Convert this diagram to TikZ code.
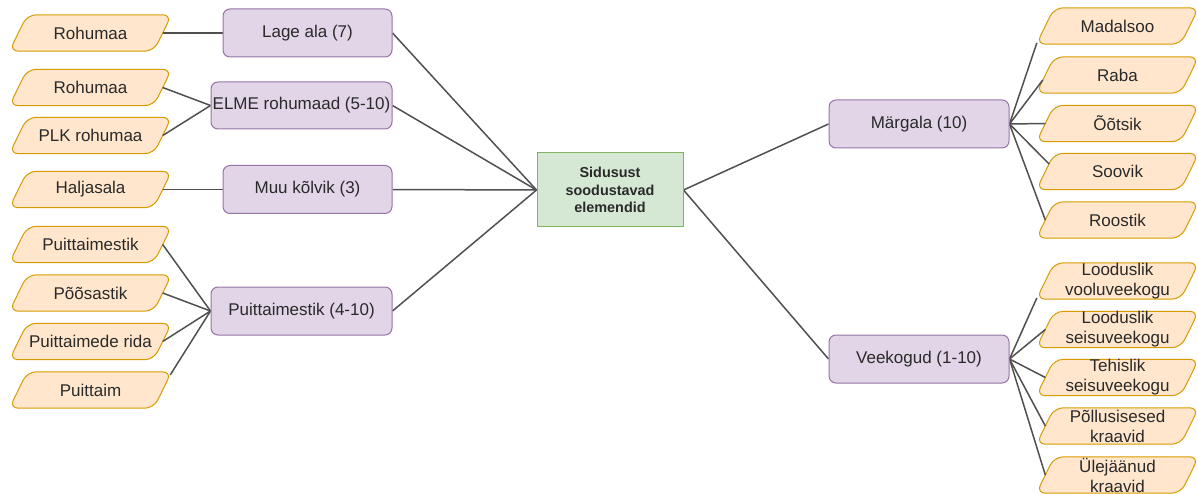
\documentclass[tikz,border=0pt]{standalone}
\usepackage{fontspec}
\setmainfont{Liberation Sans}
\usetikzlibrary{backgrounds}
\definecolor{oFill}{HTML}{FFE6CC}
\definecolor{oLine}{HTML}{D79B00}
\definecolor{pFill}{HTML}{E1D5E7}
\definecolor{pLine}{HTML}{9673A6}
\definecolor{gFill}{HTML}{D5E8D4}
\definecolor{gLine}{HTML}{82B366}
\definecolor{txt}{HTML}{2A2A2A}
\definecolor{edgec}{HTML}{505050}
\tikzset{
 catbox/.style={draw=pLine, fill=pFill, rounded corners=7pt, line width=1pt, minimum height=48pt, inner sep=0pt, text=txt, font=\fontsize{17}{20}\selectfont},
 mainbox/.style={draw=gLine, fill=gFill, line width=1pt, minimum width=146pt, minimum height=74pt, inner sep=0pt, align=center, text=txt, font=\fontsize{14.4}{17.5}\selectfont\bfseries},
 leaf/.style={minimum width=144pt, minimum height=36pt, inner sep=0pt, align=center, text=txt, font=\fontsize{17}{20}\selectfont},
 leafshape/.style={draw=oLine, fill=oFill, line width=1pt, rounded corners=9pt},
 conn/.style={draw=edgec, line width=1.5pt},
}
\begin{document}
\begin{tikzpicture}[x=1pt,y=-1pt]
\useasboundingbox (0,0) rectangle (1198,494);
% center
\node[mainbox] (c) at (610,190) {Sidusust\\soodustavad\\elemendid};
% categories
\node[catbox, minimum width=169pt] (lage) at (307.5,33) {Lage ala (7)};
\node[catbox, minimum width=181pt, minimum height=47pt] (elme) at (301.5,105.5) {ELME rohumaad (5-10)};
\node[catbox, minimum width=169pt] (muu) at (307.5,189.5) {Muu kõlvik (3)};
\node[catbox, minimum width=181pt] (puit) at (301.5,311) {Puittaimestik (4-10)};
\node[catbox, minimum width=180pt] (marg) at (919,124) {Märgala (10)};
\node[catbox, minimum width=180pt] (vee) at (919,359) {Veekogud (1-10)};
% left leaves
\node[leaf] (L1) at (90.5,33) {Rohumaa};
\node[leaf] (L2) at (90.5,87.5) {Rohumaa};
\node[leaf] (L3) at (90.5,135.5) {PLK rohumaa};
\node[leaf] (L4) at (90.5,189.5) {Haljasala};
\node[leaf] (L5) at (90.5,244.5) {Puittaimestik};
\node[leaf] (L6) at (90.5,293) {Põõsastik};
\node[leaf] (L7) at (90.5,341.5) {Puittaimede rida};
\node[leaf] (L8) at (90.5,390) {Puittaim};
% right leaves
\node[leaf] (R1) at (1117.5,26) {Madalsoo};
\node[leaf] (R2) at (1117.5,75) {Raba};
\node[leaf] (R3) at (1117.5,123.5) {Õõtsik};
\node[leaf] (R4) at (1117.5,171.5) {Soovik};
\node[leaf] (R5) at (1117.5,220) {Roostik};
\node[leaf] (R6) at (1117.5,281) {Looduslik\\vooluveekogu};
\node[leaf] (R7) at (1117.5,329.5) {Looduslik\\seisuveekogu};
\node[leaf] (R8) at (1117.5,377.5) {Tehislik\\seisuveekogu};
\node[leaf] (R9) at (1117.5,426) {Põllusisesed\\kraavid};
\node[leaf] (R10) at (1117.5,475) {Ülejäänud\\kraavid};
\begin{scope}[on background layer]
\foreach \n in {L1,L2,L3,L4,L5,L6,L7,L8,R1,R2,R3,R4,R5,R6,R7,R8,R9,R10}{
  \draw[leafshape] ([xshift=-9pt]\n.south west) -- ([xshift=9pt]\n.north west) -- ([xshift=9pt]\n.north east) -- ([xshift=-9pt]\n.south east) -- cycle;
}
\draw[conn] (L1.east) -- (lage.west);
\draw[conn] (L2.east) -- (elme.west);
\draw[conn] (L3.east) -- (elme.west);
\draw[conn] (L4.east) -- (muu.west);
\draw[conn] (L5.east) -- (puit.west);
\draw[conn] (L6.east) -- (puit.west);
\draw[conn] (L7.east) -- (puit.west);
\draw[conn] ([xshift=7.5pt,yshift=15pt]L8.east) -- (puit.west);
\draw[conn] (lage.east) -- (c.west);
\draw[conn] (elme.east) -- (c.west);
\draw[conn] (muu.east) -- (c.west);
\draw[conn] (puit.east) -- (c.west);
\draw[conn] (c.east) -- (marg.west);
\draw[conn] (c.east) -- (vee.west);
\draw[conn] (marg.east) -- ([xshift=-8.5pt,yshift=-17pt]R1.west);
\draw[conn] (marg.east) -- ([xshift=-2.5pt,yshift=-5pt]R2.west);
\draw[conn] (marg.east) -- (R3.west);
\draw[conn] (marg.east) -- ([xshift=3.75pt,yshift=7.5pt]R4.west);
\draw[conn] (marg.east) -- (R5.west);
\draw[conn] (vee.east) -- ([xshift=-8.5pt,yshift=-17pt]R6.west);
\draw[conn] (vee.east) -- (R7.west);
\draw[conn] (vee.east) -- (R8.west);
\draw[conn] (vee.east) -- (R9.west);
\draw[conn] (vee.east) -- (R10.west);
\end{scope}
\end{tikzpicture}
\end{document}
